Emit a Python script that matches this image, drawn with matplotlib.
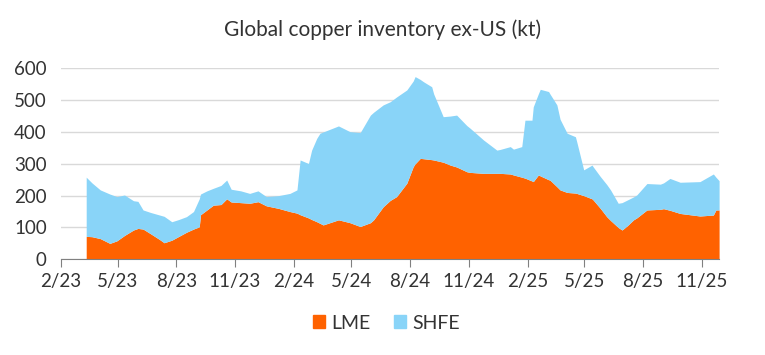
import matplotlib
matplotlib.use("Agg")
import matplotlib.pyplot as plt
import pandas as pd
from matplotlib.patches import Patch

# datos (kt)
dates = [
    "2023-03-13", "2023-03-22", "2023-04-04", "2023-04-19", "2023-04-30", "2023-05-12",
    "2023-05-26", "2023-06-02", "2023-06-10", "2023-06-22", "2023-07-06", "2023-07-13",
    "2023-07-25", "2023-08-05", "2023-08-17", "2023-08-28", "2023-09-06", "2023-09-08",
    "2023-09-18", "2023-09-28", "2023-10-10", "2023-10-19", "2023-10-26", "2023-11-10",
    "2023-11-24", "2023-12-07", "2023-12-20", "2024-01-08", "2024-01-26", "2024-02-06",
    "2024-02-11", "2024-02-24", "2024-02-29", "2024-03-08", "2024-03-13", "2024-03-18",
    "2024-04-11", "2024-04-29", "2024-05-15", "2024-05-31", "2024-06-05", "2024-06-20",
    "2024-07-01", "2024-07-11", "2024-07-27", "2024-08-06", "2024-08-09", "2024-08-17",
    "2024-08-22", "2024-09-04", "2024-09-07", "2024-09-22", "2024-10-03", "2024-10-13",
    "2024-10-29", "2024-11-03", "2024-11-24", "2024-12-15", "2024-12-20", "2025-01-05",
    "2025-01-10", "2025-01-23", "2025-01-28", "2025-02-08", "2025-02-10", "2025-02-18",
    "2025-02-21", "2025-03-06", "2025-03-08", "2025-03-19", "2025-03-24", "2025-04-04",
    "2025-04-17", "2025-04-19", "2025-04-30", "2025-05-13", "2025-05-15", "2025-05-26",
    "2025-06-05", "2025-06-11", "2025-06-23", "2025-06-29", "2025-07-07", "2025-07-17",
    "2025-07-22", "2025-08-07", "2025-08-28", "2025-09-02", "2025-09-12", "2025-09-28",
    "2025-10-29", "2025-11-19", "2025-11-23", "2025-11-28",
]
lme = [
    72, 71, 65, 50, 58, 75,
    92, 97, 95, 80, 62, 52,
    60, 72, 85, 95, 102, 140,
    155, 170, 172, 190, 180, 178,
    176, 181, 168, 160, 150, 145,
    140, 130, 125, 118, 113, 108,
    124, 115, 103, 115, 124, 165,
    185, 197, 239, 291, 300, 317,
    316, 313, 312, 305, 296, 290,
    275, 273, 270, 270, 270, 268,
    265, 258, 255, 246, 244, 265,
    262, 250, 249, 228, 218, 210,
    208, 207, 200, 190, 186, 160,
    134, 122, 100, 92, 105, 124,
    130, 155, 157, 159, 154, 144,
    136, 139, 155, 155,
]
total = [
    258, 240, 218, 205, 197, 202,
    184, 182, 155, 147, 139, 135,
    118, 125, 134, 150, 190, 205,
    215, 223, 232, 249, 220, 215,
    207, 215, 197, 200, 207, 218,
    312, 301, 343, 380, 396, 400,
    419, 401, 398, 453, 462, 485,
    495, 510, 532, 560, 574, 565,
    558, 542, 520, 448, 450, 453,
    420, 412, 375, 343, 345, 354,
    346, 354, 437, 437, 479, 520,
    534, 527, 520, 485, 440, 396,
    385, 370, 281, 296, 290, 260,
    235, 218, 176, 178, 186, 196,
    202, 238, 236, 240, 254, 242,
    244, 268, 258, 247,
]
shfe = [t - l for t, l in zip(total, lme)]

tick_dates = ["2023-02-01", "2023-05-01", "2023-08-01", "2023-11-01", "2024-02-01",
              "2024-05-01", "2024-08-01", "2024-11-01", "2025-02-01", "2025-05-01",
              "2025-08-01", "2025-11-01"]
tick_labels = ["2/23", "5/23", "8/23", "11/23", "2/24", "5/24", "8/24", "11/24",
               "2/25", "5/25", "8/25", "11/25"]

ORANGE = "#FF6200"
BLUE = "#89D4F8"


def main():
    plt.rcParams["font.family"] = ["Lato", "DejaVu Sans"]

    x = pd.to_datetime(dates)
    top = [l + s for l, s in zip(lme, shfe)]

    fig = plt.figure(figsize=(7.65, 3.55), dpi=100)
    ax = fig.add_axes([0.0793, 0.2696, 0.8607, 0.538])

    ax.fill_between(x, 0, lme, color=ORANGE, linewidth=0, zorder=2)
    ax.fill_between(x, lme, top, color=BLUE, linewidth=0, zorder=2)

    ax.set_ylim(0, 600)
    ax.set_yticks(range(0, 601, 100))
    ax.set_xlim(pd.Timestamp("2023-02-01"), pd.Timestamp("2025-11-28"))
    ax.set_xticks(pd.to_datetime(tick_dates))
    ax.set_xticklabels(tick_labels)

    ax.grid(axis="y", color="#d9d9d9", linewidth=1, zorder=0)
    for s in ["top", "right", "left"]:
        ax.spines[s].set_visible(False)
    ax.spines["bottom"].set_color("#808080")
    ax.spines["bottom"].set_zorder(3)
    ax.tick_params(axis="x", length=6, color="#808080", labelsize=13.5, pad=4,
                   labelcolor="#333333")
    ax.tick_params(axis="y", length=0, labelsize=13.5, pad=10, labelcolor="#333333")

    fig.text(0.5, 0.915, "Global copper inventory ex-US (kt)", ha="center", va="center",
             fontsize=15, color="#333333")

    handles = [Patch(color=ORANGE, label="LME"), Patch(color=BLUE, label="SHFE")]
    fig.legend(handles=handles, loc="center", bbox_to_anchor=(0.505, 0.09), ncol=2,
               frameon=False, fontsize=14, handlelength=0.65, handleheight=0.65,
               handletextpad=0.3, columnspacing=1.2, labelcolor="#333333")

    fig.savefig("out.png", dpi=100)


if __name__ == '__main__':
    main()
